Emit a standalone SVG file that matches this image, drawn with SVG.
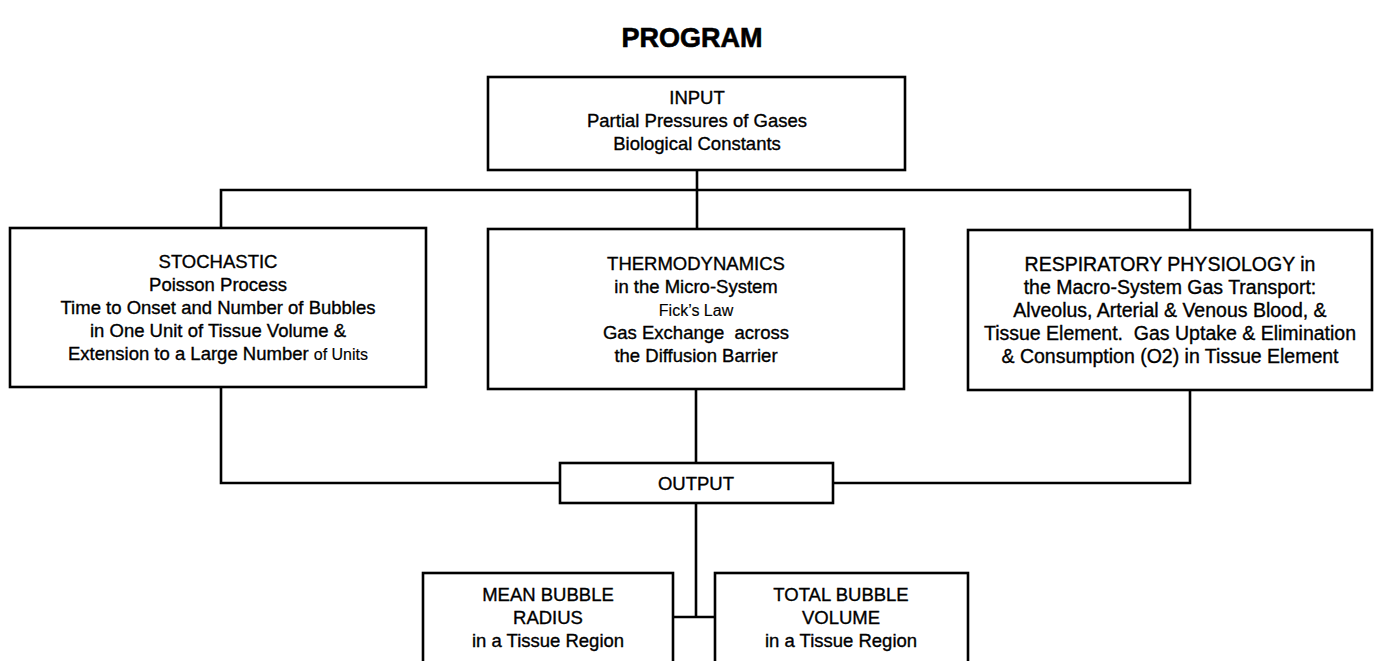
<svg xmlns="http://www.w3.org/2000/svg" width="1374" height="661" viewBox="0 0 1374 661">
<style>
.box{fill:#fff;stroke:#000;stroke-width:2.6}
.ln{fill:none;stroke:#000;stroke-width:2.6}
text{font-family:"Liberation Sans",Arial,sans-serif;font-size:18.5px;fill:#000;stroke:#000;stroke-width:0.35;text-anchor:middle;white-space:pre}
.title{font-size:27px;font-weight:bold;stroke-width:0.6}
.sm{font-size:16px;stroke-width:0.15}
.rs{font-size:19.5px}
</style>
<rect width="1374" height="661" fill="#fff"/>
<text class="title" x="692" y="47">PROGRAM</text>
<g id="connectors">
<path class="ln" d="M697 170V229"/>
<path class="ln" d="M221 228V190H1190V230"/>
<path class="ln" d="M221 387V483H560"/>
<path class="ln" d="M1190 390V483H833"/>
<path class="ln" d="M696 389V463"/>
<path class="ln" d="M696 503V617"/>
<path class="ln" d="M673 617H715"/>
</g>
<g id="input">
<rect class="box" x="488" y="77" width="417" height="93"/>
<text x="697" y="104">INPUT</text>
<text x="697" y="127">Partial Pressures of Gases</text>
<text x="697" y="150">Biological Constants</text>
</g>
<g id="stochastic">
<rect class="box" x="10" y="228" width="416" height="159"/>
<text x="218" y="268">STOCHASTIC</text>
<text x="218" y="291">Poisson Process</text>
<text x="218" y="314">Time to Onset and Number of Bubbles</text>
<text x="218" y="337">in One Unit of Tissue Volume &amp;</text>
<text x="218" y="360">Extension to a Large Number <tspan class="sm">of Units</tspan></text>
</g>
<g id="thermodynamics">
<rect class="box" x="488" y="229" width="416" height="160"/>
<text x="696" y="270">THERMODYNAMICS</text>
<text x="696" y="293">in the Micro-System</text>
<text class="sm" x="696" y="316">Fick’s Law</text>
<text x="696" y="339">Gas Exchange  across</text>
<text x="696" y="362">the Diffusion Barrier</text>
</g>
<g id="respiratory">
<rect class="box" x="968" y="230" width="404" height="160"/>
<text class="rs" x="1170" y="271">RESPIRATORY PHYSIOLOGY in</text>
<text class="rs" x="1170" y="294">the Macro-System Gas Transport:</text>
<text class="rs" x="1170" y="317">Alveolus, Arterial &amp; Venous Blood, &amp;</text>
<text class="rs" x="1170" y="340">Tissue Element.  Gas Uptake &amp; Elimination</text>
<text class="rs" x="1170" y="363">&amp; Consumption (O2) in Tissue Element</text>
</g>
<g id="output">
<rect class="box" x="560" y="463" width="273" height="40"/>
<text x="696" y="490">OUTPUT</text>
</g>
<g id="mean-radius">
<rect class="box" x="423" y="573" width="250" height="100"/>
<text x="548" y="601">MEAN BUBBLE</text>
<text x="548" y="624">RADIUS</text>
<text x="548" y="647">in a Tissue Region</text>
</g>
<g id="total-volume">
<rect class="box" x="715" y="573" width="253" height="100"/>
<text x="841" y="601">TOTAL BUBBLE</text>
<text x="841" y="624">VOLUME</text>
<text x="841" y="647">in a Tissue Region</text>
</g>
</svg>
